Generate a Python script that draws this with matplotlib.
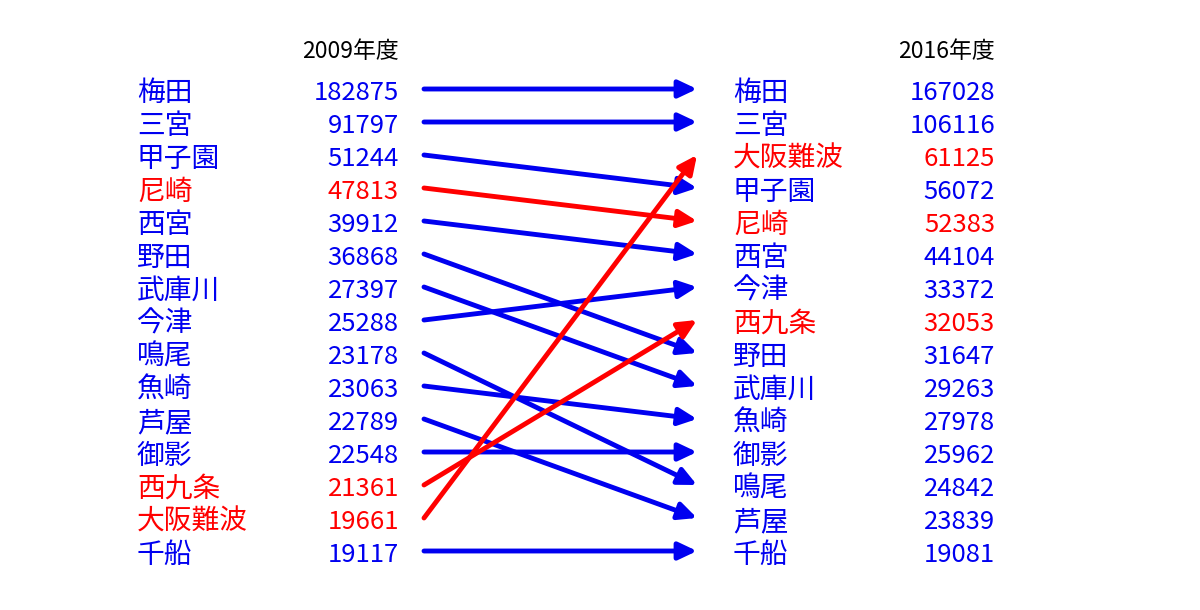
import matplotlib
matplotlib.use("Agg")
import matplotlib.pyplot as plt

plt.rcParams["font.family"] = ["Noto Sans CJK JP", "DejaVu Sans"]

# ── data ──────────────────────────────────────────────────────────────────────
names_2009 = ["梅田", "三宮", "甲子園", "尼崎", "西宮", "野田", "武庫川", "今津",
              "鳴尾", "魚崎", "芦屋", "御影", "西九条", "大阪難波", "千船"]
riders_2009 = [182875, 91797, 51244, 47813, 39912, 36868, 27397, 25288,
               23178, 23063, 22789, 22548, 21361, 19661, 19117]
names_2016 = ["梅田", "三宮", "大阪難波", "甲子園", "尼崎", "西宮", "今津", "西九条",
              "野田", "武庫川", "魚崎", "御影", "鳴尾", "芦屋", "千船"]
riders_2016 = [167028, 106116, 61125, 56072, 52383, 44104, 33372, 32053,
               31647, 29263, 27978, 25962, 24842, 23839, 19081]
headers = ["2009年度", "2016年度"]
highlight = {"尼崎", "西九条", "大阪難波"}

BLUE = "#0000f0"
RED = "#ff0000"

# ── layout (pixel coords) ─────────────────────────────────────────────────────
W, H = 1200, 610
row0, step = 91, 33
left_name_x, left_num_x = 137, 399
right_name_x, right_num_x = 733, 995
arrow_x0, arrow_x1 = 424, 697
name_fs, num_fs = 20, 18.5


def row_y(i):
    return row0 + step * i


def colour(name):
    return RED if name in highlight else BLUE


fig = plt.figure(figsize=(W / 100, H / 100), dpi=100)
ax = fig.add_axes([0, 0, 1, 1])
ax.set_xlim(0, W)
ax.set_ylim(H, 0)
ax.axis("off")

ax.text(left_num_x, 52, headers[0], ha="right", va="center", fontsize=16.5, color="black")
ax.text(right_num_x, 52, headers[1], ha="right", va="center", fontsize=16.5, color="black")

for i, (n, v) in enumerate(zip(names_2009, riders_2009)):
    c = colour(n)
    ax.text(left_name_x, row_y(i) + 2, n, ha="left", va="center", fontsize=name_fs, color=c)
    ax.text(left_num_x, row_y(i) + 2, str(v), ha="right", va="center", fontsize=num_fs, color=c)

for j, (n, v) in enumerate(zip(names_2016, riders_2016)):
    c = colour(n)
    ax.text(right_name_x, row_y(j) + 2, n, ha="left", va="center", fontsize=name_fs, color=c)
    ax.text(right_num_x, row_y(j) + 2, str(v), ha="right", va="center", fontsize=num_fs, color=c)

# arrows: 2009 rank -> 2016 rank
for i, n in enumerate(names_2009):
    j = names_2016.index(n)
    ax.annotate(
        "", xy=(arrow_x1, row_y(j) - 2), xytext=(arrow_x0, row_y(i) - 2),
        arrowprops=dict(arrowstyle="-|>,head_length=0.55,head_width=0.26",
                        mutation_scale=20, lw=3.5, color=colour(n),
                        shrinkA=0, shrinkB=0),
    )

plt.savefig("out.png", dpi=100, facecolor="white")
